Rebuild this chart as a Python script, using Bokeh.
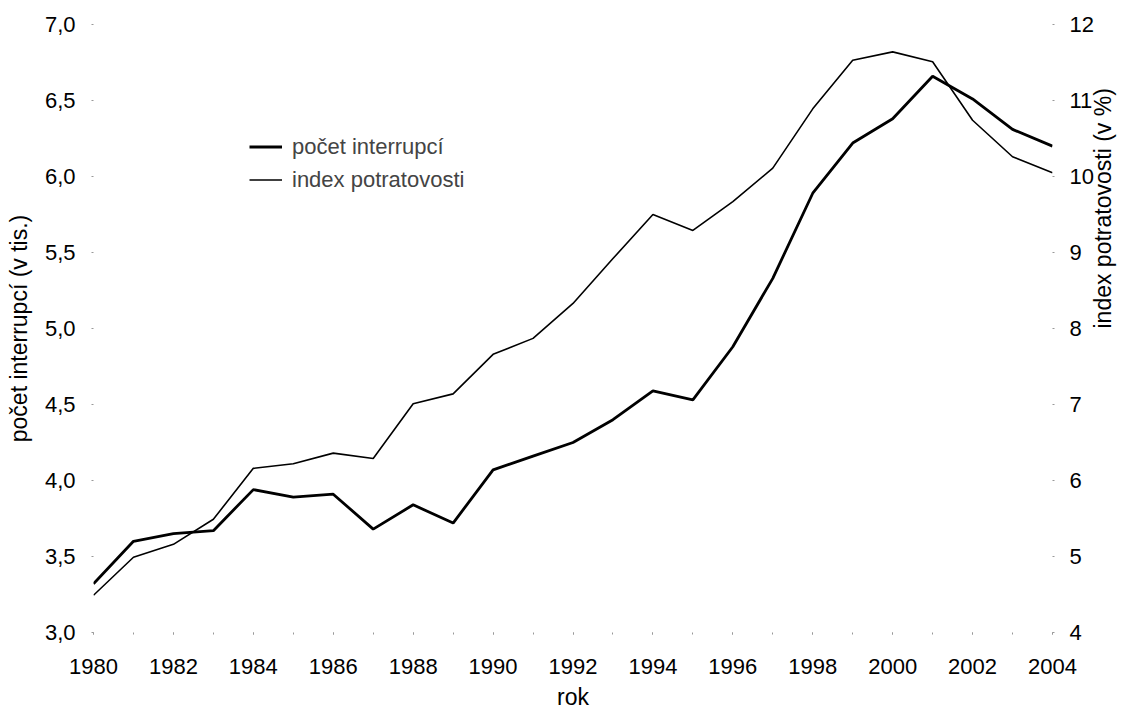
import math
from bokeh.plotting import figure
from bokeh.models import (Range1d, LinearAxis, SingleIntervalTicker, FixedTicker,
                          Legend, LegendItem, ColumnDataSource)
from bokeh.embed import file_html
from bokeh.resources import INLINE

years = list(range(1980, 2005))
pocet_interrupci = [3.32, 3.60, 3.65, 3.67, 3.94, 3.89, 3.91, 3.68, 3.84, 3.72,
                    4.07, 4.16, 4.25, 4.40, 4.59, 4.53, 4.88, 5.33, 5.89, 6.22,
                    6.38, 6.66, 6.51, 6.31, 6.20]
index_potratovosti = [4.49, 4.99, 5.16, 5.49, 6.16, 6.22, 6.36, 6.29, 7.01, 7.14,
                      7.66, 7.87, 8.33, 8.92, 9.50, 9.29, 9.67, 10.11, 10.89, 11.53,
                      11.64, 11.51, 10.74, 10.26, 10.05]
left_ticks = [3.0, 3.5, 4.0, 4.5, 5.0, 5.5, 6.0, 6.5, 7.0]
left_labels = ["3,0", "3,5", "4,0", "4,5", "5,0", "5,5", "6,0", "6,5", "7,0"]
right_ticks = [4, 5, 6, 7, 8, 9, 10, 11, 12]

FONT = "Liberation Sans"
FS = "22px"
FS_LABEL = "23px"

src = ColumnDataSource(dict(x=years, a=pocet_interrupci, b=index_potratovosti))

W, H = 1131, 712
p = figure(width=W, height=H, output_backend="svg", toolbar_location=None,
           x_range=Range1d(1980, 2004), y_range=Range1d(3.0, 7.0),
           min_border_left=93, min_border_right=W - 93 - 960,
           min_border_top=24, min_border_bottom=H - 24 - 608)
p.extra_y_ranges = {"r": Range1d(4, 12)}
p.outline_line_color = None
p.grid.grid_line_color = None
p.background_fill_color = "white"
p.border_fill_color = "white"

xa = p.xaxis[0]
xa.ticker = SingleIntervalTicker(interval=2, num_minor_ticks=2)
xa.axis_label = "rok"
ya = p.yaxis[0]
ya.ticker = FixedTicker(ticks=left_ticks)
ya.major_label_overrides = {t: l for t, l in zip(left_ticks, left_labels)}
ya.axis_label = "počet interrupcí (v tis.)"

ra = LinearAxis(y_range_name="r", ticker=FixedTicker(ticks=right_ticks),
                axis_label="index potratovosti (v %)")
ra.axis_label_orientation = math.pi / 2
p.add_layout(ra, "right")

for ax in [xa, ya, ra]:
    ax.axis_line_color = None
    ax.major_tick_in = 0
    ax.major_tick_out = 2
    ax.major_tick_line_color = "#999999"
    ax.minor_tick_in = 0
    ax.minor_tick_out = 2
    ax.minor_tick_line_color = "#999999"
    ax.major_label_text_font = FONT
    ax.major_label_text_font_size = FS
    ax.major_label_text_color = "black"
    ax.axis_label_text_font = FONT
    ax.axis_label_text_font_size = FS_LABEL
    ax.axis_label_text_font_style = "normal"
    ax.axis_label_text_color = "black"

xa.major_label_standoff = 24
xa.axis_label_standoff = 7
ya.major_label_standoff = 16
ya.axis_label_standoff = 10
ra.major_label_standoff = 15
ra.axis_label_standoff = 6

r1 = p.line("x", "a", source=src, line_color="black", line_width=2.8)
r2 = p.line("x", "b", source=src, y_range_name="r", line_color="black", line_width=1.6)

legend = Legend(items=[LegendItem(label="počet interrupcí", renderers=[r1]),
                       LegendItem(label="index potratovosti", renderers=[r2])],
                location=(156, 436), padding=0, margin=0, spacing=0,
                glyph_width=33, glyph_height=33, label_standoff=10,
                label_text_font=FONT, label_text_font_size=FS,
                border_line_color=None, background_fill_alpha=0)
p.add_layout(legend, "center")

open("out.html", "w").write(file_html(p, INLINE))
